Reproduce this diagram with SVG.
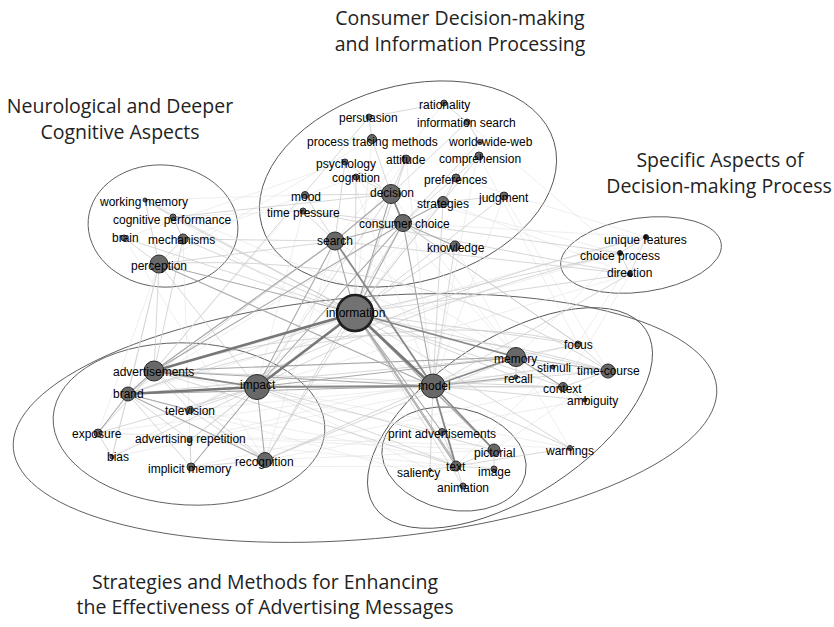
<svg xmlns="http://www.w3.org/2000/svg" width="834" height="627" viewBox="0 0 834 627">
<style>
.bg{fill:#fff}
.cl{fill:none;stroke:#555;stroke-width:0.9}
.ttl{font-family:"Open Sans","Noto Sans",sans-serif;font-size:19.5px;fill:#222;text-anchor:middle}
.lb{font-family:"Liberation Sans",Arial,sans-serif;font-size:12px;fill:#000}
.nd{fill:#686868;stroke:#2b2b2b;stroke-width:1}
.big{fill:#727272;stroke:#1e1e1e;stroke-width:2.6}
.e0{stroke:#e2e2e2;stroke-width:0.6;fill:none}
.e1{stroke:#cdcdcd;stroke-width:0.8;fill:none}
.e2{stroke:#a8a8a8;stroke-width:1.1;fill:none}
.e3{stroke:#888;stroke-width:1.8;fill:none}
.e4{stroke:#777;stroke-width:2.6;fill:none}
</style>
<rect class="bg" x="0" y="0" width="834" height="627"/>

<g id="titles">
<text class="ttl" x="460" y="25">Consumer Decision-making</text>
<text class="ttl" x="460" y="51">and Information Processing</text>
<text class="ttl" x="120" y="113">Neurological and Deeper</text>
<text class="ttl" x="120" y="139">Cognitive Aspects</text>
<text class="ttl" x="720" y="167">Specific Aspects of</text>
<text class="ttl" x="719" y="193">Decision-making Process</text>
<text class="ttl" x="265" y="589">Strategies and Methods for Enhancing</text>
<text class="ttl" x="265" y="614">the Effectiveness of Advertising Messages</text>
</g>

<g id="clusters">
<ellipse class="cl" cx="408" cy="184" rx="152" ry="98" transform="rotate(-16 408 184)"/>
<ellipse class="cl" cx="163" cy="226" rx="75" ry="61" transform="rotate(5 163 226)"/>
<ellipse class="cl" cx="641" cy="255" rx="81" ry="37" transform="rotate(-8 641 255)"/>
<ellipse class="cl" cx="365" cy="418" rx="353" ry="121" transform="rotate(-5 365 418)"/>
<ellipse class="cl" cx="189" cy="424" rx="136" ry="81" transform="rotate(3 189 424)"/>
<ellipse class="cl" cx="510" cy="418" rx="162" ry="79" transform="rotate(-33 510 418)"/>
<ellipse class="cl" cx="454" cy="459" rx="73" ry="51" transform="rotate(12 454 459)"/>
</g>

<g id="connectors">
<!-- faint long edges -->
<line class="e0" x1="620" y1="253" x2="128" y2="394"/>
<line class="e0" x1="646" y1="237" x2="154" y2="371"/>
<line class="e0" x1="630" y1="274" x2="257" y2="387"/>
<line class="e0" x1="570" y1="448" x2="257" y2="387"/>
<line class="e0" x1="608" y1="371" x2="257" y2="387"/>
<line class="e0" x1="430" y1="470" x2="257" y2="387"/>
<line class="e0" x1="463" y1="486" x2="128" y2="394"/>
<line class="e0" x1="442" y1="432" x2="154" y2="371"/>
<line class="e0" x1="494" y1="469" x2="190" y2="410"/>
<line class="e0" x1="570" y1="448" x2="98" y2="433"/>
<line class="e0" x1="563" y1="387" x2="191" y2="467"/>
<line class="e0" x1="585" y1="400" x2="265" y2="460"/>
<line class="e0" x1="578" y1="344" x2="190" y2="440"/>
<line class="e0" x1="553" y1="367" x2="112" y2="457"/>
<line class="e0" x1="494" y1="450" x2="98" y2="433"/>
<line class="e0" x1="456" y1="466" x2="190" y2="440"/>
<line class="e0" x1="504" y1="196" x2="608" y2="371"/>
<line class="e0" x1="479" y1="156" x2="578" y2="344"/>
<line class="e0" x1="467" y1="122" x2="620" y2="253"/>
<line class="e0" x1="456" y1="178" x2="646" y2="237"/>
<line class="e0" x1="443" y1="202" x2="630" y2="274"/>
<line class="e0" x1="305" y1="195" x2="145" y2="200"/>
<line class="e0" x1="303" y1="211" x2="173" y2="217"/>
<line class="e0" x1="345" y1="162" x2="124" y2="238"/>
<line class="e0" x1="356" y1="177" x2="183" y2="239"/>
<line class="e0" x1="372" y1="139" x2="159" y2="264"/>
<line class="e0" x1="444" y1="103" x2="335" y2="241"/>
<line class="e0" x1="406" y1="159" x2="257" y2="387"/>
<line class="e0" x1="480" y1="142" x2="433" y2="386"/>
<line class="e0" x1="145" y1="200" x2="516" y2="357"/>
<line class="e0" x1="173" y1="217" x2="433" y2="386"/>
<line class="e0" x1="124" y1="238" x2="265" y2="460"/>
<line class="e0" x1="183" y1="239" x2="191" y2="467"/>
<line class="e0" x1="159" y1="264" x2="98" y2="433"/>
<line class="e0" x1="159" y1="264" x2="112" y2="457"/>
<line class="e0" x1="620" y1="253" x2="516" y2="357"/>
<line class="e0" x1="630" y1="274" x2="563" y2="387"/>
<line class="e0" x1="646" y1="237" x2="578" y2="344"/>
<line class="e0" x1="620" y1="253" x2="391" y2="194"/>
<line class="e0" x1="646" y1="237" x2="403" y2="223"/>
<line class="e0" x1="303" y1="211" x2="257" y2="387"/>
<line class="e0" x1="305" y1="195" x2="154" y2="371"/>
<line class="e0" x1="345" y1="162" x2="433" y2="386"/>
<line class="e0" x1="356" y1="177" x2="516" y2="357"/>
<line class="e0" x1="372" y1="139" x2="355" y2="313"/>
<line class="e0" x1="406" y1="159" x2="433" y2="386"/>
<line class="e0" x1="456" y1="178" x2="355" y2="313"/>
<line class="e0" x1="504" y1="196" x2="433" y2="386"/>
<line class="e0" x1="455" y1="246" x2="516" y2="357"/>
<line class="e0" x1="443" y1="202" x2="257" y2="387"/>
<line class="e0" x1="391" y1="194" x2="516" y2="357"/>
<line class="e0" x1="335" y1="241" x2="516" y2="357"/>
<line class="e0" x1="335" y1="241" x2="265" y2="460"/>
<line class="e0" x1="403" y1="223" x2="128" y2="394"/>
<line class="e0" x1="190" y1="410" x2="433" y2="386"/>
<line class="e0" x1="98" y1="433" x2="433" y2="386"/>
<line class="e0" x1="191" y1="467" x2="456" y2="466"/>
<line class="e0" x1="265" y1="460" x2="494" y2="450"/>
<line class="e0" x1="112" y1="457" x2="355" y2="313"/>
<line class="e0" x1="190" y1="440" x2="355" y2="313"/>
<line class="e0" x1="570" y1="448" x2="516" y2="357"/>
<line class="e0" x1="608" y1="371" x2="494" y2="450"/>
<line class="e0" x1="578" y1="344" x2="456" y2="466"/>
<path class="e1" d="M159 264 Q 420 250 608 371"/>
<path class="e1" d="M128 394 Q 400 300 578 344"/>
<path class="e1" d="M620 253 Q 420 300 257 387"/>
<path class="e1" d="M190 410 Q 420 290 646 237"/>
<path class="e1" d="M303 211 Q 500 250 630 274"/>
<path class="e1" d="M154 371 Q 380 300 608 371"/>
<!-- light edges -->
<line class="e1" x1="303" y1="211" x2="403" y2="223"/>
<line class="e1" x1="305" y1="195" x2="391" y2="194"/>
<line class="e1" x1="345" y1="162" x2="391" y2="194"/>
<line class="e1" x1="356" y1="177" x2="391" y2="194"/>
<line class="e1" x1="406" y1="159" x2="391" y2="194"/>
<line class="e1" x1="372" y1="139" x2="391" y2="194"/>
<line class="e1" x1="369" y1="117" x2="372" y2="139"/>
<line class="e1" x1="444" y1="103" x2="467" y2="122"/>
<line class="e1" x1="369" y1="117" x2="444" y2="103"/>
<line class="e1" x1="467" y1="122" x2="391" y2="194"/>
<line class="e1" x1="479" y1="156" x2="403" y2="223"/>
<line class="e1" x1="456" y1="178" x2="443" y2="202"/>
<line class="e1" x1="504" y1="196" x2="443" y2="202"/>
<line class="e1" x1="480" y1="142" x2="467" y2="122"/>
<line class="e1" x1="480" y1="142" x2="403" y2="223"/>
<line class="e1" x1="455" y1="246" x2="355" y2="313"/>
<line class="e1" x1="443" y1="202" x2="355" y2="313"/>
<line class="e1" x1="159" y1="264" x2="183" y2="239"/>
<line class="e1" x1="183" y1="239" x2="173" y2="217"/>
<line class="e1" x1="124" y1="238" x2="159" y2="264"/>
<line class="e1" x1="145" y1="200" x2="159" y2="264"/>
<line class="e1" x1="145" y1="200" x2="173" y2="217"/>
<line class="e1" x1="159" y1="264" x2="335" y2="241"/>
<line class="e1" x1="159" y1="264" x2="257" y2="387"/>
<line class="e1" x1="159" y1="264" x2="128" y2="394"/>
<line class="e1" x1="159" y1="264" x2="154" y2="371"/>
<line class="e1" x1="183" y1="239" x2="355" y2="313"/>
<line class="e1" x1="183" y1="239" x2="335" y2="241"/>
<line class="e1" x1="183" y1="239" x2="154" y2="371"/>
<line class="e1" x1="173" y1="217" x2="391" y2="194"/>
<line class="e1" x1="620" y1="253" x2="355" y2="313"/>
<line class="e1" x1="620" y1="253" x2="403" y2="223"/>
<line class="e1" x1="646" y1="237" x2="620" y2="253"/>
<line class="e1" x1="630" y1="274" x2="620" y2="253"/>
<line class="e1" x1="630" y1="274" x2="646" y2="237"/>
<line class="e1" x1="630" y1="274" x2="355" y2="313"/>
<line class="e1" x1="630" y1="274" x2="433" y2="386"/>
<line class="e1" x1="630" y1="274" x2="335" y2="241"/>
<line class="e1" x1="578" y1="344" x2="516" y2="357"/>
<line class="e1" x1="578" y1="344" x2="355" y2="313"/>
<line class="e1" x1="578" y1="344" x2="403" y2="223"/>
<line class="e1" x1="553" y1="367" x2="433" y2="386"/>
<line class="e1" x1="553" y1="367" x2="516" y2="357"/>
<line class="e1" x1="608" y1="371" x2="563" y2="387"/>
<line class="e1" x1="608" y1="371" x2="578" y2="344"/>
<line class="e1" x1="608" y1="371" x2="355" y2="313"/>
<line class="e1" x1="608" y1="371" x2="433" y2="386"/>
<line class="e1" x1="585" y1="400" x2="433" y2="386"/>
<line class="e1" x1="585" y1="400" x2="563" y2="387"/>
<line class="e1" x1="516" y1="377" x2="516" y2="357"/>
<line class="e1" x1="563" y1="387" x2="433" y2="386"/>
<line class="e1" x1="563" y1="387" x2="355" y2="313"/>
<line class="e1" x1="570" y1="448" x2="433" y2="386"/>
<line class="e1" x1="570" y1="448" x2="355" y2="313"/>
<line class="e1" x1="570" y1="448" x2="456" y2="466"/>
<line class="e1" x1="442" y1="432" x2="456" y2="466"/>
<line class="e1" x1="494" y1="450" x2="456" y2="466"/>
<line class="e1" x1="494" y1="469" x2="456" y2="466"/>
<line class="e1" x1="494" y1="469" x2="494" y2="450"/>
<line class="e1" x1="463" y1="486" x2="456" y2="466"/>
<line class="e1" x1="430" y1="470" x2="456" y2="466"/>
<line class="e1" x1="430" y1="470" x2="433" y2="386"/>
<line class="e1" x1="463" y1="486" x2="355" y2="313"/>
<line class="e1" x1="190" y1="410" x2="257" y2="387"/>
<line class="e1" x1="190" y1="410" x2="154" y2="371"/>
<line class="e1" x1="98" y1="433" x2="154" y2="371"/>
<line class="e1" x1="98" y1="433" x2="112" y2="457"/>
<line class="e1" x1="112" y1="457" x2="128" y2="394"/>
<line class="e1" x1="190" y1="440" x2="191" y2="467"/>
<line class="e1" x1="190" y1="440" x2="128" y2="394"/>
<line class="e1" x1="190" y1="440" x2="257" y2="387"/>
<line class="e1" x1="191" y1="467" x2="265" y2="460"/>
<line class="e1" x1="191" y1="467" x2="128" y2="394"/>
<line class="e1" x1="265" y1="460" x2="154" y2="371"/>
<line class="e1" x1="265" y1="460" x2="433" y2="386"/>
<line class="e1" x1="265" y1="460" x2="355" y2="313"/>
<line class="e1" x1="98" y1="433" x2="257" y2="387"/>
<line class="e1" x1="190" y1="410" x2="265" y2="460"/>
<line class="e1" x1="112" y1="457" x2="257" y2="387"/>
<line class="e1" x1="154" y1="371" x2="335" y2="241"/>
<line class="e1" x1="128" y1="394" x2="335" y2="241"/>
<line class="e1" x1="128" y1="394" x2="355" y2="313"/>
<line class="e1" x1="303" y1="211" x2="335" y2="241"/>
<line class="e1" x1="305" y1="195" x2="335" y2="241"/>
<line class="e1" x1="504" y1="196" x2="355" y2="313"/>
<line class="e1" x1="479" y1="156" x2="355" y2="313"/>
<line class="e1" x1="406" y1="159" x2="355" y2="313"/>
<line class="e1" x1="369" y1="117" x2="154" y2="371"/>
<line class="e1" x1="345" y1="162" x2="335" y2="241"/>
<line class="e1" x1="356" y1="177" x2="355" y2="313"/>
<line class="e1" x1="145" y1="200" x2="355" y2="313"/>
<line class="e1" x1="173" y1="217" x2="355" y2="313"/>
<line class="e1" x1="124" y1="238" x2="355" y2="313"/>
<line class="e1" x1="257" y1="387" x2="494" y2="450"/>
<line class="e1" x1="257" y1="387" x2="456" y2="466"/>
<line class="e1" x1="154" y1="371" x2="456" y2="466"/>
<line class="e1" x1="128" y1="394" x2="516" y2="357"/>
<line class="e1" x1="265" y1="460" x2="516" y2="357"/>
<line class="e1" x1="257" y1="387" x2="563" y2="387"/>
<line class="e1" x1="154" y1="371" x2="563" y2="387"/>
<line class="e1" x1="403" y1="223" x2="578" y2="344"/>
<line class="e1" x1="355" y1="313" x2="516" y2="377"/>
<line class="e1" x1="455" y1="246" x2="433" y2="386"/>
<line class="e1" x1="443" y1="202" x2="433" y2="386"/>
<line class="e1" x1="391" y1="194" x2="257" y2="387"/>
<line class="e1" x1="403" y1="223" x2="265" y2="460"/>
<!-- medium edges -->
<line class="e2" x1="335" y1="241" x2="403" y2="223"/>
<line class="e2" x1="335" y1="241" x2="355" y2="313"/>
<line class="e2" x1="403" y1="223" x2="355" y2="313"/>
<line class="e2" x1="403" y1="223" x2="154" y2="371"/>
<line class="e2" x1="391" y1="194" x2="335" y2="241"/>
<line class="e2" x1="391" y1="194" x2="355" y2="313"/>
<line class="e2" x1="159" y1="264" x2="355" y2="313"/>
<line class="e2" x1="159" y1="264" x2="433" y2="386"/>
<line class="e2" x1="154" y1="371" x2="516" y2="357"/>
<line class="e2" x1="128" y1="394" x2="433" y2="386"/>
<line class="e2" x1="154" y1="371" x2="433" y2="386"/>
<line class="e2" x1="257" y1="387" x2="516" y2="357"/>
<line class="e2" x1="257" y1="387" x2="265" y2="460"/>
<line class="e2" x1="128" y1="394" x2="265" y2="460"/>
<line class="e2" x1="128" y1="394" x2="98" y2="433"/>
<line class="e2" x1="128" y1="394" x2="190" y2="410"/>
<line class="e2" x1="154" y1="371" x2="128" y2="394"/>
<line class="e2" x1="516" y1="357" x2="608" y2="371"/>
<line class="e2" x1="516" y1="357" x2="563" y2="387"/>
<line class="e2" x1="433" y1="386" x2="516" y2="377"/>
<line class="e2" x1="335" y1="241" x2="154" y2="371"/>
<line class="e2" x1="403" y1="223" x2="433" y2="386"/>
<line class="e2" x1="443" y1="202" x2="403" y2="223"/>
<line class="e2" x1="455" y1="246" x2="403" y2="223"/>
<line class="e2" x1="355" y1="313" x2="494" y2="450"/>
<line class="e2" x1="355" y1="313" x2="456" y2="466"/>
<line class="e2" x1="358" y1="316" x2="459" y2="468"/>
<line class="e2" x1="355" y1="313" x2="442" y2="432"/>
<line class="e2" x1="257" y1="387" x2="191" y2="467"/>
<line class="e2" x1="335" y1="241" x2="257" y2="387"/>
<line class="e2" x1="403" y1="223" x2="257" y2="387"/>
<!-- strong edges -->
<line class="e3" x1="335" y1="241" x2="433" y2="386"/>
<line class="e3" x1="257" y1="387" x2="433" y2="386"/>
<line class="e3" x1="433" y1="386" x2="516" y2="357"/>
<line class="e3" x1="355" y1="313" x2="516" y2="357"/>
<line class="e3" x1="154" y1="371" x2="257" y2="387"/>
<line class="e3" x1="433" y1="386" x2="456" y2="466"/>
<line class="e3" x1="433" y1="386" x2="494" y2="450"/>
<line class="e3" x1="391" y1="194" x2="403" y2="223"/>
<line class="e4" x1="355" y1="313" x2="154" y2="371"/>
<line class="e4" x1="355" y1="313" x2="257" y2="387"/>
<line class="e4" x1="355" y1="313" x2="433" y2="386"/>
<line class="e4" x1="128" y1="394" x2="257" y2="387"/>
</g>

<g id="nodes">
<g id="n-rationality"><circle class="nd" cx="444" cy="103" r="3"/><text class="lb" x="419" y="109">rationality</text></g>
<g id="n-persuasion"><circle class="nd" cx="369" cy="117" r="3"/><text class="lb" x="339" y="122">persuasion</text></g>
<g id="n-information-search"><circle class="nd" cx="467" cy="122" r="3"/><text class="lb" x="417" y="127">information search</text></g>
<g id="n-process-tracing"><circle class="nd" cx="372" cy="139" r="4.5"/><text class="lb" x="307" y="146">process tracing methods</text></g>
<g id="n-www"><circle class="nd" cx="480" cy="142" r="2.5"/><text class="lb" x="449" y="146">world-wide-web</text></g>
<g id="n-psychology"><circle class="nd" cx="345" cy="162" r="3"/><text class="lb" x="316" y="168">psychology</text></g>
<g id="n-attitude"><circle class="nd" cx="406" cy="159" r="4"/><text class="lb" x="386" y="164">attitude</text></g>
<g id="n-comprehension"><circle class="nd" cx="479" cy="156" r="4"/><text class="lb" x="439" y="163">comprehension</text></g>
<g id="n-cognition"><circle class="nd" cx="356" cy="177" r="3"/><text class="lb" x="332" y="182">cognition</text></g>
<g id="n-preferences"><circle class="nd" cx="456" cy="178" r="4"/><text class="lb" x="424" y="184">preferences</text></g>
<g id="n-mood"><circle class="nd" cx="305" cy="195" r="3.5"/><text class="lb" x="291" y="201">mood</text></g>
<g id="n-decision"><circle class="nd" cx="391" cy="194" r="9.5"/><text class="lb" x="370" y="197">decision</text></g>
<g id="n-judgment"><circle class="nd" cx="504" cy="196" r="4"/><text class="lb" x="479" y="202">judgment</text></g>
<g id="n-strategies"><circle class="nd" cx="443" cy="202" r="5.5"/><text class="lb" x="417" y="208">strategies</text></g>
<g id="n-time-pressure"><circle class="nd" cx="303" cy="211" r="3"/><text class="lb" x="267" y="217">time pressure</text></g>
<g id="n-consumer-choice"><circle class="nd" cx="403" cy="223" r="8.5"/><text class="lb" x="359" y="228">consumer choice</text></g>
<g id="n-search"><circle class="nd" cx="335" cy="241" r="9"/><text class="lb" x="317" y="245">search</text></g>
<g id="n-knowledge"><circle class="nd" cx="455" cy="246" r="5"/><text class="lb" x="427" y="252">knowledge</text></g>

<g id="n-working-memory"><circle class="nd" cx="145" cy="200" r="2"/><text class="lb" x="100" y="206">working memory</text></g>
<g id="n-cognitive-performance"><circle class="nd" cx="173" cy="217" r="3"/><text class="lb" x="113" y="224">cognitive performance</text></g>
<g id="n-brain"><circle class="nd" cx="124" cy="238" r="3"/><text class="lb" x="112" y="242">brain</text></g>
<g id="n-mechanisms"><circle class="nd" cx="183" cy="239" r="5"/><text class="lb" x="148" y="244">mechanisms</text></g>
<g id="n-perception"><circle class="nd" cx="159" cy="264" r="9"/><text class="lb" x="131" y="270">perception</text></g>

<g id="n-unique-features"><circle class="nd" cx="646" cy="237" r="2.5" style="fill:#222"/><text class="lb" x="604" y="244">unique features</text></g>
<g id="n-choice-process"><circle class="nd" cx="620" cy="253" r="2.5" style="fill:#222"/><text class="lb" x="580" y="260">choice process</text></g>
<g id="n-direction"><circle class="nd" cx="630" cy="274" r="2.5" style="fill:#222"/><text class="lb" x="607" y="277">direction</text></g>

<g id="n-information"><circle class="big" cx="355" cy="313" r="18"/><text class="lb" x="326" y="317">information</text></g>

<g id="n-advertisements"><circle class="nd" cx="154" cy="371" r="10"/><text class="lb" x="113" y="376">advertisements</text></g>
<g id="n-brand"><circle class="nd" cx="128" cy="394" r="7"/><text class="lb" x="113" y="398">brand</text></g>
<g id="n-impact"><circle class="nd" cx="257" cy="387" r="12.5"/><text class="lb" x="240" y="389">impact</text></g>
<g id="n-television"><circle class="nd" cx="190" cy="410" r="3.5"/><text class="lb" x="165" y="415">television</text></g>
<g id="n-exposure"><circle class="nd" cx="98" cy="433" r="4"/><text class="lb" x="72" y="438">exposure</text></g>
<g id="n-advertising-repetition"><circle class="nd" cx="190" cy="440" r="2"/><text class="lb" x="135" y="443">advertising repetition</text></g>
<g id="n-bias"><circle class="nd" cx="112" cy="457" r="2"/><text class="lb" x="107" y="461">bias</text></g>
<g id="n-implicit-memory"><circle class="nd" cx="191" cy="467" r="4"/><text class="lb" x="148" y="473">implicit memory</text></g>
<g id="n-recognition"><circle class="nd" cx="265" cy="460" r="7.5"/><text class="lb" x="235" y="466">recognition</text></g>

<g id="n-memory"><circle class="nd" cx="516" cy="357" r="9.5"/><text class="lb" x="494" y="363">memory</text></g>
<g id="n-focus"><circle class="nd" cx="578" cy="344" r="3"/><text class="lb" x="564" y="349">focus</text></g>
<g id="n-stimuli"><circle class="nd" cx="553" cy="367" r="2"/><text class="lb" x="537" y="372">stimuli</text></g>
<g id="n-time-course"><circle class="nd" cx="608" cy="371" r="7"/><text class="lb" x="577" y="375">time-course</text></g>
<g id="n-recall"><circle class="nd" cx="516" cy="377" r="2"/><text class="lb" x="504" y="383">recall</text></g>
<g id="n-model"><circle class="nd" cx="433" cy="386" r="12"/><text class="lb" x="418" y="390">model</text></g>
<g id="n-context"><circle class="nd" cx="563" cy="387" r="4.5"/><text class="lb" x="543" y="393">context</text></g>
<g id="n-ambiguity"><circle class="nd" cx="585" cy="400" r="2"/><text class="lb" x="567" y="405">ambiguity</text></g>
<g id="n-print-advertisements"><circle class="nd" cx="442" cy="432" r="3.5"/><text class="lb" x="388" y="438">print advertisements</text></g>
<g id="n-pictorial"><circle class="nd" cx="494" cy="450" r="6"/><text class="lb" x="474" y="457">pictorial</text></g>
<g id="n-warnings"><circle class="nd" cx="570" cy="448" r="2.5"/><text class="lb" x="546" y="455">warnings</text></g>
<g id="n-saliency"><circle class="nd" cx="430" cy="470" r="1.5"/><text class="lb" x="397" y="477">saliency</text></g>
<g id="n-text"><circle class="nd" cx="456" cy="466" r="5"/><text class="lb" x="446" y="471">text</text></g>
<g id="n-image"><circle class="nd" cx="494" cy="469" r="3"/><text class="lb" x="478" y="476">image</text></g>
<g id="n-animation"><circle class="nd" cx="463" cy="486" r="3"/><text class="lb" x="437" y="492">animation</text></g>
</g>
</svg>
